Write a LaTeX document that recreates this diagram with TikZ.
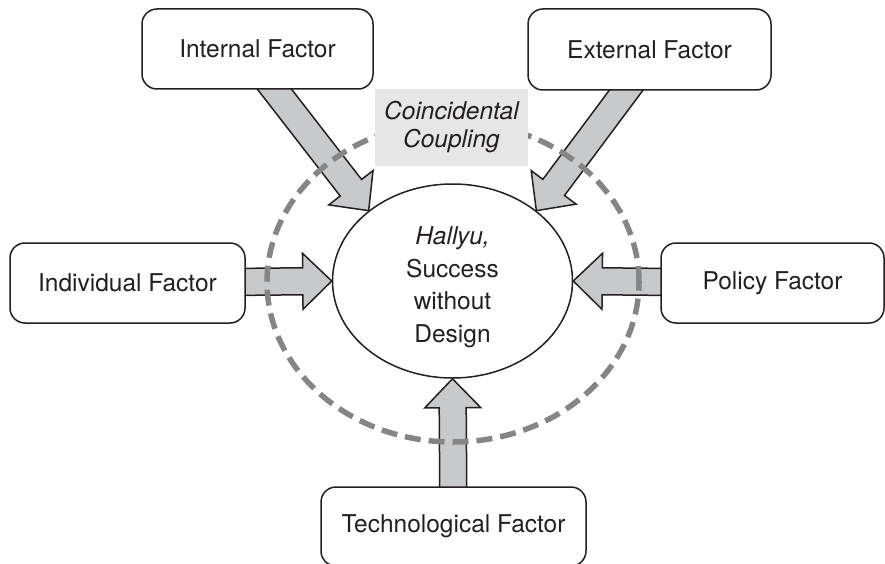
\documentclass[tikz,border=0pt]{standalone}
\usepackage{fontspec}
\setmainfont{TeX Gyre Heros}
\usetikzlibrary{calc,shapes.geometric}
\definecolor{arrowfill}{HTML}{C8C9CB}
\definecolor{dashgray}{HTML}{858585}
\definecolor{labelgray}{HTML}{E6E6E6}
\definecolor{ink}{HTML}{231F20}
\pgfdeclarelayer{arrowlayer}
\pgfsetlayers{arrowlayer,main}
\newcommand\blockarrow[3]{%
  \coordinate (#1s) at (#2);
  \coordinate (#1t) at (#3);
  \coordinate (#1c) at ($(#1t)!29pt!(#1s)$);
  \draw[blockarr] ($(#1s)!13.5pt!90:(#1t)$) -- ($(#1c)!13.5pt!90:(#1t)$)
    -- ($(#1c)!28pt!90:(#1t)$) -- (#1t) -- ($(#1c)!28pt!-90:(#1t)$)
    -- ($(#1c)!13.5pt!-90:(#1t)$) -- ($(#1s)!13.5pt!-90:(#1t)$) -- cycle;}
\begin{document}
\begin{tikzpicture}[x=1pt,y=-1pt,
  factor/.style={draw=ink, line width=1.5pt, rounded corners=15pt, fill=white,
    inner sep=0pt, text=ink, font=\fontsize{24.5}{29}\selectfont},
  blockarr/.style={draw=ink, line width=1.5pt, fill=arrowfill, line join=miter},
  hallyu/.style={shape=ellipse, draw=ink, line width=1.5pt, inner sep=0pt,
    minimum width=240pt, minimum height=194pt},
  coupling/.style={draw=dashgray, line width=5.5pt, dash pattern=on 16pt off 8pt},
  labelbox/.style={fill=labelgray, inner sep=0pt, minimum width=153pt, minimum height=77pt,
    align=center, text=ink, font=\fontsize{24.5}{28}\selectfont\itshape}]
\useasboundingbox (0,0) rectangle (885,564);
% factor boxes
\node[factor, minimum width=231pt, minimum height=80pt] (int) at (257.5,49) {Internal Factor};
\node[factor, minimum width=243pt, minimum height=81pt] (ext) at (649.5,49.5) {External Factor};
\node[factor, minimum width=235pt, minimum height=80pt] (ind) at (127.5,283) {Individual Factor};
\node[factor, minimum width=223pt, minimum height=80pt] (pol) at (772.5,283) {Policy Factor};
\node[factor, minimum width=265pt, minimum height=79pt] (tec) at (453.5,526.5) {\raisebox{3pt}{Technological Factor}};
% central ellipse
\node[hallyu] (hal) at (452.5,281) {};
\node[align=center, text=ink, font=\fontsize{24.5}{32.5}\selectfont] (haltext) at (452.5,287)
  {\textit{Hallyu,}\\Success\\without\\Design};
% coordinates for the diagonal arrow starts
\coordinate (ints) at (265,77);
\coordinate (exts) at (637.5,75);
\begin{pgfonlayer}{arrowlayer}
  \blockarrow{a1}{ints}{hal.140}
  \blockarrow{a2}{exts}{hal.40}
  \blockarrow{a3}{ind.center}{hal.west}
  \blockarrow{a4}{pol.center}{hal.east}
  \blockarrow{a5}{tec.center}{hal.south}
\end{pgfonlayer}
% coincidental coupling ring
\draw[coupling] (453,282) ellipse [x radius=186pt, y radius=160pt];
\node[labelbox] (cc) at (451.5,127.5) {Coincidental\\Coupling};
\end{tikzpicture}
\end{document}
